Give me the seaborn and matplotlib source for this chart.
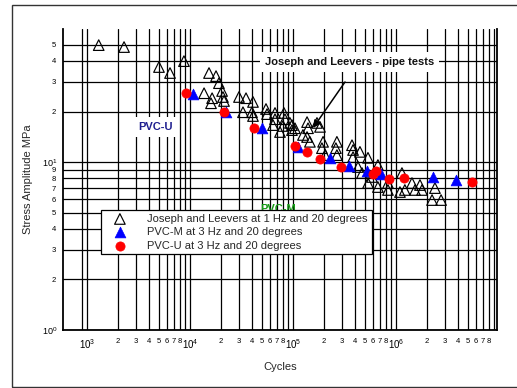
import matplotlib
matplotlib.use("Agg")
import matplotlib.pyplot as plt
import seaborn as sns
from matplotlib.ticker import FixedLocator, FixedFormatter
from matplotlib.patches import Rectangle

# Joseph and Leevers pipe tests, 1 Hz, 20 degrees
jl_cycles = [1300, 2290, 5000, 6400, 8740, 13700, 15300, 17900, 19100, 20500,
             16400, 16000, 20900, 21400, 29900, 35000, 40900, 32700, 40000, 40900,
             54700, 56000, 66900, 66900, 81800, 83600, 64000, 80000, 97800, 97800,
             74800, 93500, 104500, 137000, 140000, 137000, 171000, 183000, 146000, 196000,
             191000, 205000, 267000, 261000, 267000, 374000, 383000, 383000, 447000, 535000,
             428000, 468000, 585000, 535000, 668000, 668000, 836000, 836000, 1143000, 1220000,
             1430000, 1530000, 1710000, 1790000, 2390000, 2240000, 2740000, 125000, 1093000]
jl_stress = [49.7, 48.4, 36.8, 33.9, 39.9, 25.7, 33.9, 32.5, 29.5, 26.5,
             24.0, 22.4, 24.4, 23.1, 24.4, 24.0, 22.8, 19.8, 19.8, 18.8,
             20.7, 19.3, 19.6, 18.0, 19.6, 18.0, 16.6, 16.4, 16.6, 15.5,
             15.1, 17.1, 15.9, 17.3, 15.9, 14.1, 17.1, 16.2, 13.2, 13.2,
             12.1, 11.0, 13.2, 12.1, 11.0, 12.6, 11.8, 10.7, 11.5, 10.6,
             9.34, 8.6, 8.15, 7.5, 7.1, 9.6, 7.5, 6.82, 8.6, 6.82,
             7.5, 6.82, 7.3, 6.82, 7.0, 5.94, 5.94, 14.5, 6.63]

# PVC-M, 3 Hz, 20 degrees
pvcm_cycles = [10700, 22400, 50000, 112000, 229000, 350000, 523000, 715000, 2290000, 3830000]
pvcm_stress = [25.4, 19.8, 15.9, 12.3, 10.6, 9.47, 8.84, 8.49, 8.15, 7.81]

# PVC-U, 3 Hz, 20 degrees
pvcu_cycles = [9150, 21400, 41800, 104500, 137000, 183000, 292000, 598000, 640000,
               855000, 1196000, 5470000]
pvcu_stress = [25.7, 19.8, 15.9, 12.4, 11.5, 10.4, 9.34, 8.49, 8.84, 7.92, 8.03, 7.60]

series_labels = ["Joseph and Leevers at 1 Hz and 20 degrees",
                 "PVC-M at 3 Hz and 20 degrees",
                 "PVC-U at 3 Hz and 20 degrees"]

# Axis ticks and labels
x_major = [1e3, 1e4, 1e5, 1e6]
x_major_labels = [r"$10^{3}$", r"$10^{4}$", r"$10^{5}$", r"$10^{6}$"]
x_minor = [900] + [k * 10 ** d for d in range(3, 7) for k in range(2, 10)]
x_minor_labels = [""] + [("" if k == 9 else str(k)) for d in range(3, 7) for k in range(2, 10)]
y_major = [1, 10]
y_major_labels = [r"$10^{0}$", r"$10^{1}$"]
y_minor = [2, 3, 4, 5, 6, 7, 8, 9, 20, 30, 40, 50]
y_minor_labels = ["2", "3", "4", "5", "6", "7", "8", "9", "2", "3", "4", "5"]

sns.set_style("white")
plt.rcParams["font.family"] = ["Liberation Sans", "DejaVu Sans"]
plt.rcParams["mathtext.fontset"] = "custom"
plt.rcParams["mathtext.rm"] = "Liberation Sans"
plt.rcParams["mathtext.it"] = "Liberation Sans:italic"
plt.rcParams["mathtext.bf"] = "Liberation Sans:bold"
plt.rcParams["mathtext.default"] = "regular"

W, H = 517, 388
fig = plt.figure(figsize=(W / 100, H / 100), dpi=100)
fig.patch.set_facecolor("white")
ax = fig.add_axes([63 / W, 1 - 330 / H, 434 / W, 301 / H])

sns.scatterplot(x=jl_cycles, y=jl_stress, marker="^", s=58, color="white",
                edgecolor="black", linewidth=0.85, label=series_labels[0],
                legend=False, ax=ax, zorder=3)
ax.collections[-1].set_facecolor("none")
sns.scatterplot(x=pvcm_cycles, y=pvcm_stress, marker="^", s=60, color="#0000ff",
                edgecolor="#0000ff", linewidth=0.5, label=series_labels[1],
                legend=False, ax=ax, zorder=4)
sns.scatterplot(x=pvcu_cycles, y=pvcu_stress, marker="o", s=44, color="#ff0000",
                edgecolor="#ff0000", linewidth=0.5, label=series_labels[2],
                legend=False, ax=ax, zorder=5)

ax.set_xscale("log")
ax.set_yscale("log")
ax.set_xlim(585, 9.57e6)
ax.set_ylim(1, 62)

ax.xaxis.set_major_locator(FixedLocator(x_major))
ax.xaxis.set_major_formatter(FixedFormatter(x_major_labels))
ax.xaxis.set_minor_locator(FixedLocator(x_minor))
ax.xaxis.set_minor_formatter(FixedFormatter(x_minor_labels))
ax.yaxis.set_major_locator(FixedLocator(y_major))
ax.yaxis.set_major_formatter(FixedFormatter(y_major_labels))
ax.yaxis.set_minor_locator(FixedLocator(y_minor))
ax.yaxis.set_minor_formatter(FixedFormatter(y_minor_labels))

ax.tick_params(which="both", length=0, colors="black")
ax.tick_params(axis="x", which="major", labelsize=7, pad=5)
ax.tick_params(axis="x", which="minor", labelsize=5.5, pad=6)
ax.tick_params(axis="y", which="major", labelsize=6.5, pad=4)
ax.tick_params(axis="y", which="minor", labelsize=5.5, pad=5)

ax.grid(True, which="both", color="black", linewidth=0.9)
ax.set_axisbelow(True)

for side in ("left", "bottom", "right"):
    ax.spines[side].set_color("black")
    ax.spines[side].set_linewidth(1.3)
ax.spines["top"].set_visible(False)

ax.set_xlabel("Cycles", fontsize=8)
ax.xaxis.set_label_coords(0.5, -0.105)
ax.set_ylabel("Stress Amplitude MPa", fontsize=8)
ax.yaxis.set_label_coords(-0.068, 0.5)

# Region labels and callout
ax.text(0.212, 0.674, "PVC-U", transform=ax.transAxes, ha="center", va="center",
        fontsize=8, fontweight="bold", color="#1f1f8f", zorder=4,
        bbox=dict(facecolor="white", edgecolor="none", boxstyle="square,pad=0.45"))
ax.text(0.495, 0.401, "PVC-M", transform=ax.transAxes, ha="center", va="center",
        fontsize=8, fontweight="bold", color="#159a15", zorder=4)
ax.text(0.661, 0.890, "Joseph and Leevers - pipe tests", transform=ax.transAxes,
        ha="center", va="center", fontsize=8, fontweight="bold", color="#111111",
        zorder=4,
        bbox=dict(facecolor="white", edgecolor="none", boxstyle="square,pad=0.45"))
ax.annotate("", xy=(0.576, 0.671), xytext=(0.6498, 0.824), xycoords="axes fraction",
            arrowprops=dict(arrowstyle="-|>", color="black", lw=1.1,
                            mutation_scale=11, shrinkA=0, shrinkB=0), zorder=6)

leg = ax.legend(loc="upper left", bbox_to_anchor=((101 - 63) / 434, (330 - 210) / 301),
                borderaxespad=0, fontsize=8, frameon=True, fancybox=False,
                framealpha=1, edgecolor="black", borderpad=0.35,
                handlelength=2.7, handletextpad=1.1, labelspacing=0.3,
                scatterpoints=1)
leg.get_frame().set_linewidth(0.9)
leg.set_zorder(10)

# Outer frame around the chart area
fig.add_artist(Rectangle((12 / W, 1 / H), 2.0, (H - 6) / H, transform=fig.transFigure,
                         fill=False, edgecolor="#333333", linewidth=1.0))

fig.savefig("out.png", dpi=100, facecolor="white")
